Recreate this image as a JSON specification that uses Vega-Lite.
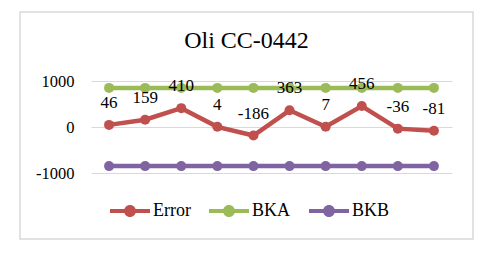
{
  "$schema": "https://vega.github.io/schema/vega-lite/v6.json",
  "autosize": "none",
  "width": 453,
  "height": 227,
  "padding": {"left": 20, "top": 12, "right": 26, "bottom": 14},
  "background": "white",
  "config": {
    "view": {"stroke": "#D9D9D9", "strokeWidth": 1.5},
    "font": "Liberation Serif"
  },
  "title": {
    "text": "Oli CC-0442",
    "font": "Liberation Serif",
    "fontSize": 24,
    "fontWeight": "normal",
    "color": "#000000",
    "anchor": "middle",
    "frame": "group",
    "baseline": "alphabetic",
    "offset": -60
  },
  "data": {
    "values": [
      {"i": 1, "series": "Error", "v": 46},
      {"i": 2, "series": "Error", "v": 159},
      {"i": 3, "series": "Error", "v": 410},
      {"i": 4, "series": "Error", "v": 4},
      {"i": 5, "series": "Error", "v": -186},
      {"i": 6, "series": "Error", "v": 363},
      {"i": 7, "series": "Error", "v": 7},
      {"i": 8, "series": "Error", "v": 456},
      {"i": 9, "series": "Error", "v": -36},
      {"i": 10, "series": "Error", "v": -81},
      {"i": 1, "series": "BKA", "v": 850},
      {"i": 2, "series": "BKA", "v": 850},
      {"i": 3, "series": "BKA", "v": 850},
      {"i": 4, "series": "BKA", "v": 850},
      {"i": 5, "series": "BKA", "v": 850},
      {"i": 6, "series": "BKA", "v": 850},
      {"i": 7, "series": "BKA", "v": 850},
      {"i": 8, "series": "BKA", "v": 850},
      {"i": 9, "series": "BKA", "v": 850},
      {"i": 10, "series": "BKA", "v": 850},
      {"i": 1, "series": "BKB", "v": -850},
      {"i": 2, "series": "BKB", "v": -850},
      {"i": 3, "series": "BKB", "v": -850},
      {"i": 4, "series": "BKB", "v": -850},
      {"i": 5, "series": "BKB", "v": -850},
      {"i": 6, "series": "BKB", "v": -850},
      {"i": 7, "series": "BKB", "v": -850},
      {"i": 8, "series": "BKB", "v": -850},
      {"i": 9, "series": "BKB", "v": -850},
      {"i": 10, "series": "BKB", "v": -850}
    ]
  },
  "encoding": {
    "x": {
      "field": "i",
      "type": "ordinal",
      "scale": {"type": "point", "range": [71, 432], "padding": 0.5},
      "axis": null
    },
    "y": {
      "field": "v",
      "type": "quantitative",
      "scale": {"domain": [-1000, 1000], "range": [161, 69], "nice": false, "zero": false},
      "axis": {
        "title": null,
        "values": [-1000, 0, 1000],
        "labelExpr": "toString(datum.value)",
        "domain": false,
        "ticks": false,
        "grid": true,
        "gridColor": "#D9D9D9",
        "gridWidth": 1.2,
        "labelFont": "Liberation Serif",
        "labelFontSize": 16.5,
        "labelColor": "#000000",
        "labelPadding": 2,
        "offset": -56
      }
    }
  },
  "layer": [
    {
      "mark": {"type": "line", "strokeWidth": 4.5, "point": {"filled": true, "size": 100, "opacity": 1}},
      "encoding": {
        "color": {
          "field": "series",
          "type": "nominal",
          "scale": {"domain": ["Error", "BKA", "BKB"], "range": ["#C0504D", "#9BBB59", "#8064A2"]},
          "legend": {
            "title": null,
            "orient": "none",
            "legendX": 90,
            "legendY": 179,
            "direction": "horizontal",
            "padding": 0,
            "labelFont": "Liberation Serif",
            "labelFontSize": 18,
            "labelColor": "#000000",
            "labelOffset": 3,
            "columnPadding": 18,
            "symbolType": "M-1,-0.1L1,-0.1L1,0.1L-1,0.1Z M0.3,0A0.3,0.3,0,1,1,-0.3,0A0.3,0.3,0,1,1,0.3,0Z",
            "symbolSize": 1600,
            "symbolStrokeWidth": 0,
            "encode": {
              "symbols": {
                "update": {
                  "fill": {"scale": "color", "field": "value"},
                  "stroke": {"value": "transparent"},
                  "opacity": {"value": 1}
                }
              }
            }
          }
        },
        "order": {"field": "i"}
      }
    },
    {
      "transform": [{"filter": "datum.series === 'Error'"}],
      "mark": {"type": "text", "font": "Liberation Serif", "fontSize": 17, "color": "#000000", "dy": -22, "baseline": "middle", "align": "center"},
      "encoding": {
        "text": {"field": "v", "type": "nominal"}
      }
    }
  ]
}
